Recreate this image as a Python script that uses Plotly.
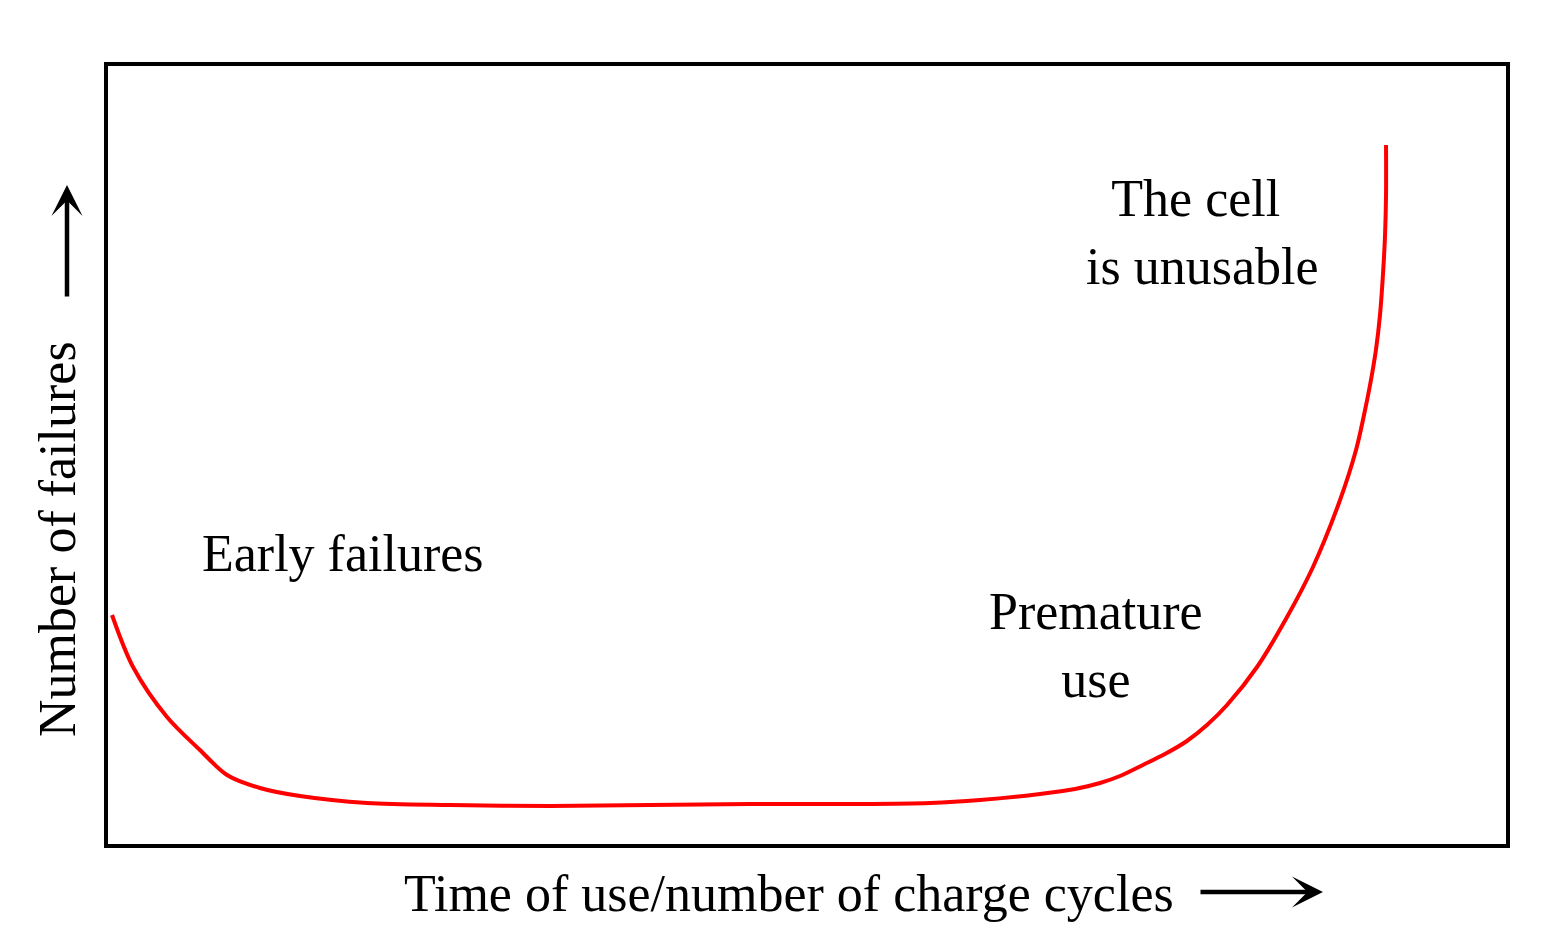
import plotly.graph_objects as go

# Bathtub curve (time of use in %, failures in % of the axis span)
time_of_use = [0.43, 1.93, 4.35, 6.70, 8.63, 10.98, 13.84, 18.62, 24.54, 31.67, 38.80,
               45.93, 53.07, 58.77, 62.34, 66.62, 69.12, 70.90, 72.33, 73.96, 75.53,
               77.10, 78.53, 79.96, 82.10, 84.24, 86.09, 88.02, 89.16, 89.73, 90.16,
               90.58, 90.87, 91.08, 91.23, 91.30, 91.30]
failures = [29.54, 22.89, 16.50, 12.28, 9.08, 7.42, 6.39, 5.50, 5.24, 5.12, 5.24,
            5.37, 5.37, 5.50, 5.88, 6.65, 7.29, 8.06, 8.95, 10.36, 11.76,
            13.43, 15.47, 18.03, 22.89, 29.28, 35.68, 44.25, 50.64, 55.12, 58.95,
            63.43, 67.90, 73.02, 78.13, 83.25, 89.64]

labels = ["Early failures", "Premature<br>use", "The cell<br> is unusable"]
x_title = "Time of use/number of charge cycles"
y_title = "Number of failures"

FONT = "Liberation Serif, Times New Roman, serif"
FS = 52

fig = go.Figure()
fig.add_trace(go.Scatter(
    x=time_of_use, y=failures, mode="lines",
    line=dict(color="#ff0000", width=4, shape="spline", smoothing=0.9),
    hoverinfo="skip", showlegend=False,
))

OFF = 8  # page body margin
W, H = 1554 - OFF, 952 - OFF
L, T = 106 - OFF, 64 - OFF
R = W - (1508 - OFF)
B = H - (846 - OFF)
pw, ph = W - L - R, H - T - B

def px(xp):
    return (xp - OFF - L) / pw

def py(yp):
    return (H - B - (yp - OFF)) / ph

annotations = [
    dict(text=labels[0], x=px(343), y=py(553)),
    dict(text=labels[1], x=px(1096), y=py(645)),
    dict(text=labels[2], x=px(1196), y=py(232)),
    dict(text=x_title, x=px(789), y=py(893)),
    dict(text=y_title, x=px(57), y=py(539), textangle=-90),
]
ann = []
for a in annotations:
    d = dict(xref="paper", yref="paper", showarrow=False,
             xanchor="center", yanchor="middle",
             font=dict(family=FONT, size=FS, color="black"))
    d.update(a)
    ann.append(d)

# arrows
ann.append(dict(xref="paper", yref="paper", x=px(1323), y=py(892), ax=-124, ay=0,
                text="", showarrow=True, arrowhead=3, arrowwidth=4.5, arrowsize=1.15,
                arrowcolor="black"))
ann.append(dict(xref="paper", yref="paper", x=px(67), y=py(185), ax=0, ay=113,
                text="", showarrow=True, arrowhead=3, arrowwidth=4.5, arrowsize=1.15,
                arrowcolor="black"))

fig.update_layout(
    width=W, height=H,
    margin=dict(l=L, r=R, t=T, b=B),
    paper_bgcolor="white", plot_bgcolor="white",
    xaxis=dict(range=[0, 100], showticklabels=False, showgrid=False, zeroline=False,
               showline=False, ticks=""),
    yaxis=dict(range=[0, 100], showticklabels=False, showgrid=False, zeroline=False,
               showline=False, ticks=""),
    annotations=ann,
    shapes=[dict(type="rect", xref="paper", yref="paper", x0=0, x1=1, y0=0, y1=1,
                 line=dict(color="black", width=4), fillcolor="rgba(0,0,0,0)")],
)

fig.write_html("out.html")
